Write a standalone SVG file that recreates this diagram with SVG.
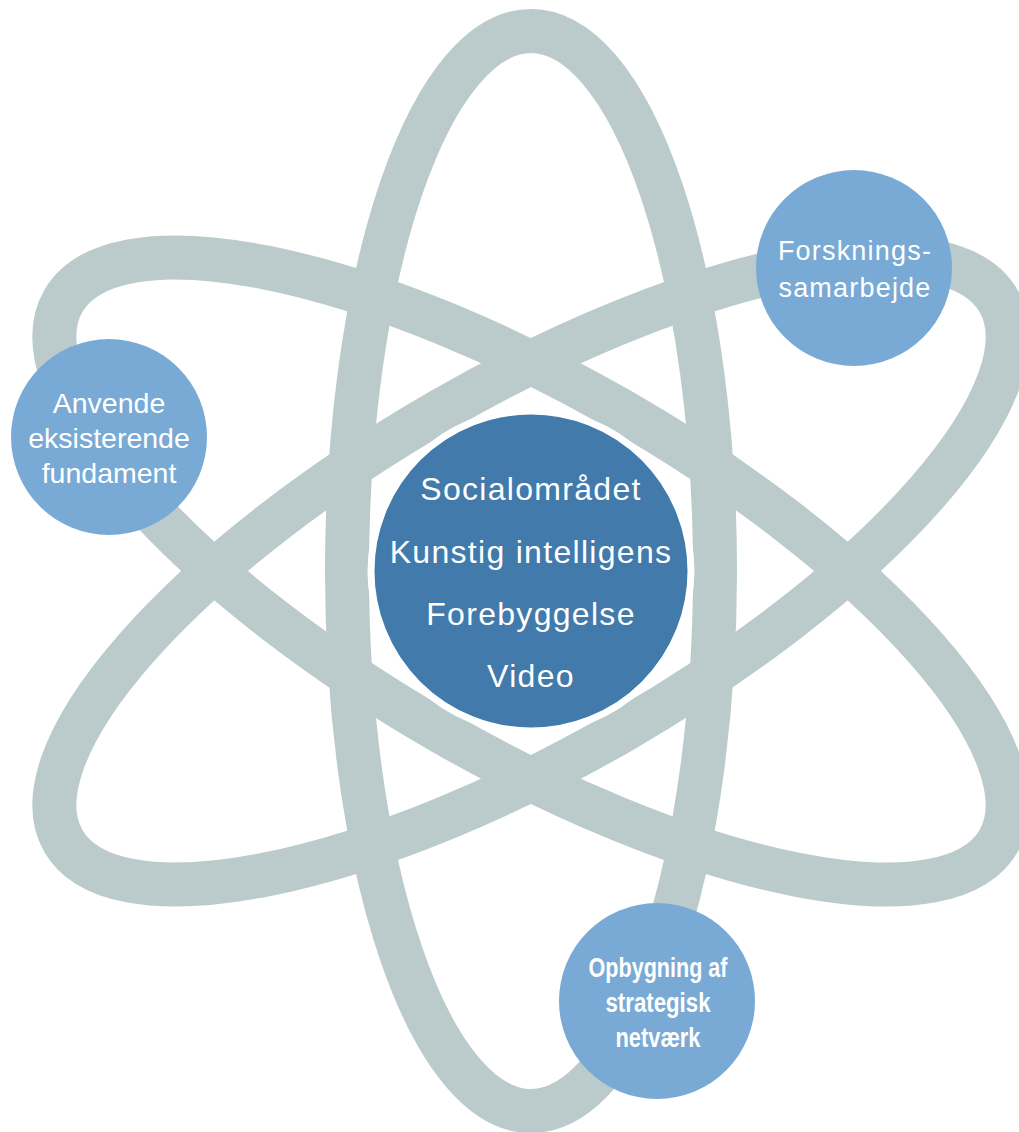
<svg xmlns="http://www.w3.org/2000/svg" width="1019" height="1132" viewBox="0 0 1019 1132">
  <style>
    .orbit { fill: none; stroke: #BBCBCB; stroke-width: 44; }
    .sat { fill: #78AAD5; }
    .core { fill: #417AAB; stroke: #FFFFFF; stroke-width: 7; }
    .t { fill: #FFFFFF; font-family: "Liberation Sans", Arial, sans-serif; text-anchor: middle; }
    .tc { font-size: 32px; letter-spacing: 1.3px; }
    .ts { font-size: 28.5px; }
    .tr { font-size: 27px; letter-spacing: 1.2px; }
    .tb { font-size: 27px; font-weight: bold; }
  </style>
  <rect width="1019" height="1132" fill="#FFFFFF"/>
  <g id="orbits">
    <ellipse class="orbit" cx="531" cy="571" rx="184" ry="540"/>
    <ellipse class="orbit" cx="531" cy="571" rx="184" ry="540" transform="rotate(60 531 571)"/>
    <ellipse class="orbit" cx="531" cy="571" rx="184" ry="540" transform="rotate(-60 531 571)"/>
  </g>
  <g id="core">
    <circle class="core" cx="531" cy="571" r="160"/>
    <text class="t tc" x="531" y="500">Socialområdet</text>
    <text class="t tc" x="531" y="563">Kunstig intelligens</text>
    <text class="t tc" x="531" y="625">Forebyggelse</text>
    <text class="t tc" x="531" y="687">Video</text>
  </g>
  <g id="node-anvende">
    <circle class="sat" cx="109" cy="437" r="98"/>
    <text class="t ts" x="109" y="413">Anvende</text>
    <text class="t ts" x="109" y="448">eksisterende</text>
    <text class="t ts" x="109" y="483">fundament</text>
  </g>
  <g id="node-forskning">
    <circle class="sat" cx="854" cy="268" r="98"/>
    <text class="t tr" x="855" y="260">Forsknings-</text>
    <text class="t tr" x="855" y="297">samarbejde</text>
  </g>
  <g id="node-netvaerk">
    <circle class="sat" cx="657" cy="1001" r="98"/>
    <text class="t tb" x="658" y="977" textLength="139" lengthAdjust="spacingAndGlyphs">Opbygning af</text>
    <text class="t tb" x="658" y="1012" textLength="105" lengthAdjust="spacingAndGlyphs">strategisk</text>
    <text class="t tb" x="658" y="1047" textLength="85" lengthAdjust="spacingAndGlyphs">netværk</text>
  </g>
</svg>
